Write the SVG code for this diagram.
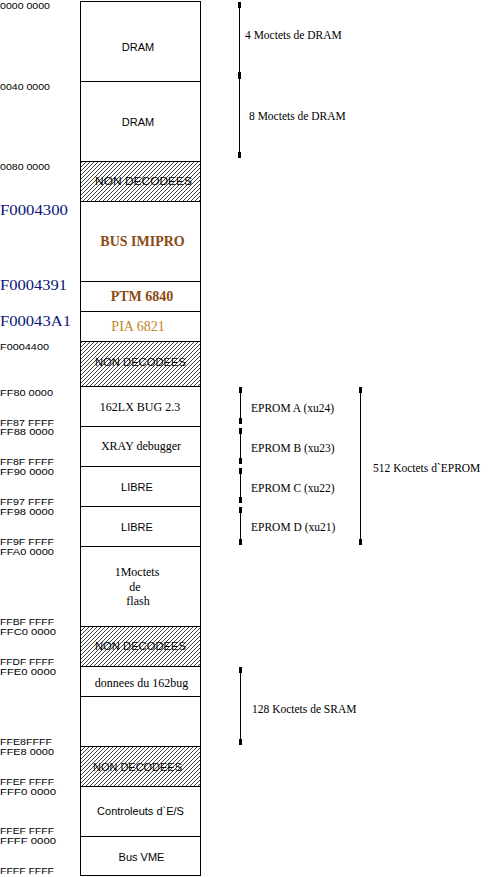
<svg xmlns="http://www.w3.org/2000/svg" width="491" height="877" viewBox="0 0 491 877">
<defs>
<pattern id="hatch" patternUnits="userSpaceOnUse" width="4" height="4">
<rect width="4" height="4" fill="#fff"/>
<path d="M-1,1 L1,-1 M0,4 L4,0 M3,5 L5,3" stroke="#000" stroke-width="0.75"/>
</pattern>
<marker id="blob" viewBox="0 0 6 3.4" refX="6" refY="1.7" markerWidth="6" markerHeight="3.4" markerUnits="userSpaceOnUse" orient="auto-start-reverse">
<rect x="0" y="0" width="6" height="3.4" fill="#000"/>
</marker>
<style>
.cell{fill:#fff;stroke:#000;stroke-width:1}
.nd{fill:url(#hatch);stroke:#000;stroke-width:1}
text{fill:#000}
.sans{font-family:"Liberation Sans",Arial,sans-serif;font-size:11px;text-anchor:middle}
.serif{font-family:"Liberation Serif","Times New Roman",serif;font-size:12px;text-anchor:middle}
.ndt{font-family:"Liberation Sans",Arial,sans-serif;font-size:11px;text-anchor:middle}
.addr{font-family:"Liberation Sans",Arial,sans-serif;font-size:8.5px}
.blue{font-family:"Liberation Serif","Times New Roman",serif;font-size:15px;fill:#0a1478}
.brown{font-family:"Liberation Serif","Times New Roman",serif;font-size:14px;font-weight:bold;fill:#8a4a14;text-anchor:middle}
.ochre{font-family:"Liberation Serif","Times New Roman",serif;font-size:14px;fill:#c08628;text-anchor:middle}
.note{font-family:"Liberation Serif","Times New Roman",serif;font-size:11.5px}
.dim{stroke:#000;stroke-width:1;fill:none;marker-start:url(#blob);marker-end:url(#blob)}
</style>
</defs>

<g id="cell-dram1"><rect class="cell" x="80.5" y="1.5" width="120" height="80"/><text class="sans" x="138" y="51">DRAM</text></g>
<g id="cell-dram2"><rect class="cell" x="80.5" y="81.5" width="120" height="80"/><text class="sans" x="138" y="126">DRAM</text></g>
<g id="cell-nd1"><rect class="nd" x="80.5" y="161.5" width="120" height="40"/><text class="ndt" x="143.5" y="185" textLength="97" lengthAdjust="spacingAndGlyphs">NON DECODEES</text></g>
<g id="cell-imipro"><rect class="cell" x="80.5" y="201.5" width="120" height="80"/><text class="brown" x="142.5" y="246">BUS IMIPRO</text></g>
<g id="cell-ptm"><rect class="cell" x="80.5" y="281.5" width="120" height="30"/><text class="brown" x="142" y="301">PTM 6840</text></g>
<g id="cell-pia"><rect class="cell" x="80.5" y="311.5" width="120" height="30"/><text class="ochre" x="138" y="331">PIA 6821</text></g>
<g id="cell-nd2"><rect class="nd" x="80.5" y="341.5" width="120" height="45"/><text class="ndt" x="140.5" y="366" textLength="91" lengthAdjust="spacingAndGlyphs">NON DECODEES</text></g>
<g id="cell-bug"><rect class="cell" x="80.5" y="386.5" width="120" height="40"/><text class="serif" x="140" y="411">162LX BUG 2.3</text></g>
<g id="cell-xray"><rect class="cell" x="80.5" y="426.5" width="120" height="40"/><text class="serif" x="141" y="450">XRAY debugger</text></g>
<g id="cell-libre1"><rect class="cell" x="80.5" y="466.5" width="120" height="40"/><text class="sans" x="137" y="491">LIBRE</text></g>
<g id="cell-libre2"><rect class="cell" x="80.5" y="506.5" width="120" height="40"/><text class="sans" x="137" y="531">LIBRE</text></g>
<g id="cell-flash"><rect class="cell" x="80.5" y="546.5" width="120" height="80"/><text class="serif" x="137" y="576">1Moctets</text><text class="serif" x="135" y="591">de</text><text class="serif" x="138" y="605">flash</text></g>
<g id="cell-nd3"><rect class="nd" x="80.5" y="626.5" width="120" height="40"/><text class="ndt" x="140.5" y="650" textLength="91" lengthAdjust="spacingAndGlyphs">NON DECODEES</text></g>
<g id="cell-donnees"><rect class="cell" x="80.5" y="666.5" width="120" height="30"/><text class="serif" x="141.5" y="687" font-size="11">donnees du 162bug</text></g>
<g id="cell-sram"><rect class="cell" x="80.5" y="696.5" width="120" height="50"/></g>
<g id="cell-nd4"><rect class="nd" x="80.5" y="746.5" width="120" height="40"/><text class="ndt" x="137.5" y="771" textLength="89" lengthAdjust="spacingAndGlyphs">NON DECODEES</text></g>
<g id="cell-es"><rect class="cell" x="80.5" y="786.5" width="120" height="50"/><text class="sans" x="140.5" y="815" font-size="10.5">Controleuts d`E/S</text></g>
<g id="cell-vme"><rect class="cell" x="80.5" y="836.5" width="120" height="39"/><text class="sans" x="141.5" y="861">Bus VME</text></g>

<g id="addresses">
<text class="addr" x="0" y="9" textLength="50" lengthAdjust="spacingAndGlyphs">0000 0000</text>
<text class="addr" x="0" y="90" textLength="50" lengthAdjust="spacingAndGlyphs">0040 0000</text>
<text class="addr" x="0" y="170" textLength="50" lengthAdjust="spacingAndGlyphs">0080 0000</text>
<text class="blue" x="0" y="215" textLength="68" lengthAdjust="spacingAndGlyphs">F0004300</text>
<text class="blue" x="0" y="290" textLength="67" lengthAdjust="spacingAndGlyphs">F0004391</text>
<text class="blue" x="0" y="326" textLength="71" lengthAdjust="spacingAndGlyphs">F00043A1</text>
<text class="addr" x="0" y="350" textLength="49" lengthAdjust="spacingAndGlyphs">F0004400</text>
<text class="addr" x="0" y="396" textLength="53" lengthAdjust="spacingAndGlyphs">FF80 0000</text>
<text class="addr" x="0" y="425.5" textLength="54" lengthAdjust="spacingAndGlyphs">FF87 FFFF</text>
<text class="addr" x="0" y="435" textLength="54" lengthAdjust="spacingAndGlyphs">FF88  0000</text>
<text class="addr" x="0" y="465" textLength="54" lengthAdjust="spacingAndGlyphs">FF8F FFFF</text>
<text class="addr" x="0" y="475" textLength="54" lengthAdjust="spacingAndGlyphs">FF90  0000</text>
<text class="addr" x="0" y="505" textLength="54" lengthAdjust="spacingAndGlyphs">FF97 FFFF</text>
<text class="addr" x="0" y="515" textLength="54" lengthAdjust="spacingAndGlyphs">FF98  0000</text>
<text class="addr" x="0" y="545" textLength="54" lengthAdjust="spacingAndGlyphs">FF9F FFFF</text>
<text class="addr" x="0" y="555" textLength="54" lengthAdjust="spacingAndGlyphs">FFA0 0000</text>
<text class="addr" x="0" y="625" textLength="54" lengthAdjust="spacingAndGlyphs">FFBF FFFF</text>
<text class="addr" x="0" y="635" textLength="56" lengthAdjust="spacingAndGlyphs">FFC0  0000</text>
<text class="addr" x="0" y="665" textLength="54" lengthAdjust="spacingAndGlyphs">FFDF FFFF</text>
<text class="addr" x="0" y="675" textLength="56" lengthAdjust="spacingAndGlyphs">FFE0  0000</text>
<text class="addr" x="0" y="745" textLength="52" lengthAdjust="spacingAndGlyphs">FFE8FFFF</text>
<text class="addr" x="0" y="755" textLength="54" lengthAdjust="spacingAndGlyphs">FFE8 0000</text>
<text class="addr" x="0" y="785" textLength="54" lengthAdjust="spacingAndGlyphs">FFEF FFFF</text>
<text class="addr" x="0" y="795" textLength="56" lengthAdjust="spacingAndGlyphs">FFF0  0000</text>
<text class="addr" x="0" y="834" textLength="54" lengthAdjust="spacingAndGlyphs">FFEF FFFF</text>
<text class="addr" x="0" y="844" textLength="56" lengthAdjust="spacingAndGlyphs">FFFF  0000</text>
<text class="addr" x="0" y="874" textLength="54" lengthAdjust="spacingAndGlyphs">FFFF FFFF</text>
</g>

<g id="connectors">
<line class="dim" x1="239.5" y1="2" x2="239.5" y2="78"/>
<line class="dim" x1="239.5" y1="73" x2="239.5" y2="158"/>
<line class="dim" x1="240.5" y1="387" x2="240.5" y2="424"/>
<line class="dim" x1="240.5" y1="428" x2="240.5" y2="464"/>
<line class="dim" x1="240.5" y1="468" x2="240.5" y2="503"/>
<line class="dim" x1="240.5" y1="507" x2="240.5" y2="545"/>
<line class="dim" x1="360.5" y1="387" x2="360.5" y2="545"/>
<line class="dim" x1="240.5" y1="667" x2="240.5" y2="745"/>
</g>

<g id="notes">
<text class="note" x="245" y="39">4 Moctets de DRAM</text>
<text class="note" x="249" y="120">8 Moctets de DRAM</text>
<text class="note" x="251" y="412">EPROM A (xu24)</text>
<text class="note" x="251" y="452">EPROM B (xu23)</text>
<text class="note" x="251" y="492">EPROM C (xu22)</text>
<text class="note" x="251" y="531">EPROM D (xu21)</text>
<text class="note" x="373" y="472">512 Koctets d`EPROM</text>
<text class="note" x="252" y="713">128 Koctets de SRAM</text>
</g>
</svg>
